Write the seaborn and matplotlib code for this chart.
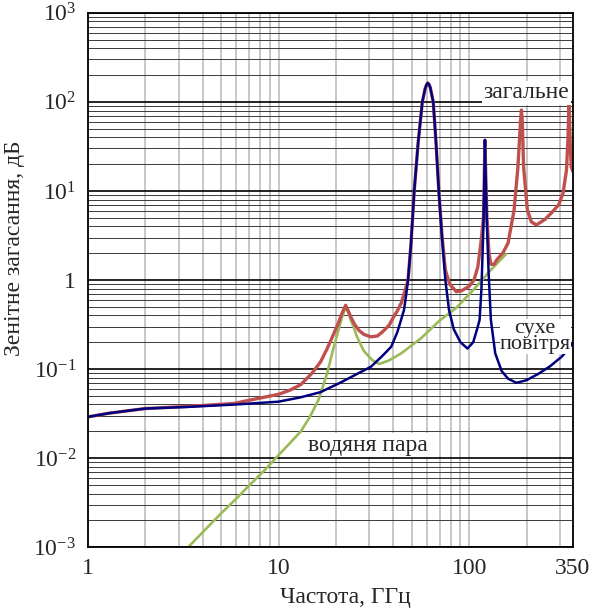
import matplotlib
matplotlib.use("Agg")
import matplotlib.pyplot as plt
import matplotlib.ticker as mticker
import seaborn as sns
import numpy as np

# Дані (частота, ГГц -> загасання, дБ)
f_dry = [1, 1.3, 2, 3.3, 6, 10, 13, 16.6, 21, 25, 30.5, 35, 39, 42, 44, 45.5,
         46.8, 47.8, 49.5, 51.5, 54, 56.8, 58.7, 59.7, 60.6, 61.5, 62.5, 64.8,
         67, 69.3, 72, 75, 78.4, 83, 90, 98, 105, 110, 113.4, 116, 118.8, 120,
         121, 122.3, 124, 126.5, 130, 137, 148, 160, 177, 200, 230, 265, 305,
         330, 350]
a_dry = [0.029, 0.032, 0.036, 0.0375, 0.040, 0.043, 0.048, 0.055, 0.07, 0.085,
         0.106, 0.14, 0.178, 0.26, 0.36, 0.46, 0.7, 1.0, 2.5, 10, 35, 100, 140,
         155, 163, 158, 145, 100, 35, 10, 3.0, 1.0, 0.46, 0.28, 0.2, 0.17, 0.2,
         0.28, 0.355, 0.8, 4, 12, 37.4, 12, 4, 1.2, 0.355, 0.15, 0.095, 0.078,
         0.07, 0.075, 0.088, 0.107, 0.137, 0.165, 0.2]

f_vap = [3.36, 4, 5, 6, 7, 8.5, 10, 11.5, 13.1, 14.6, 16.2, 18, 19.5, 20.7,
         21.5, 22.5, 23.3, 24, 25, 25.8, 28, 31, 33.7, 38, 44, 55.7, 70, 85.5,
         94, 110, 130, 156]
a_vap = [0.001, 0.00147, 0.0024, 0.0035, 0.0049, 0.0074, 0.0108, 0.0148,
         0.020, 0.029, 0.045, 0.09, 0.178, 0.28, 0.38, 0.5, 0.42, 0.35, 0.28,
         0.23, 0.16, 0.126, 0.114, 0.125, 0.15, 0.22, 0.35, 0.485, 0.6, 0.86,
         1.3, 1.95]

f_tot = [1, 1.3, 2, 3.3, 5.8, 8.7, 10, 11.5, 13.1, 15, 16.6, 18, 19.5, 20.5,
         21.5, 22.5, 23.2, 24, 25, 26.5, 28, 30.5, 33, 35, 38, 40, 42, 44, 46,
         47.8, 49.5, 51.5, 54, 56.8, 58.7, 59.7, 60.6, 61.5, 62.5, 64.8, 67,
         69.3, 72, 75, 79, 85.5, 90.5, 100, 106, 111, 115, 118.8, 120, 121,
         122.3, 124, 127, 130, 135, 140, 150, 160, 172, 180, 186, 188, 190,
         193, 202, 212, 225, 250, 270, 295, 311, 324, 330, 334, 338, 343, 350]
a_tot = [0.029, 0.032, 0.036, 0.038, 0.041, 0.049, 0.052, 0.058, 0.067, 0.09,
         0.12, 0.17, 0.25, 0.32, 0.42, 0.52, 0.45, 0.38, 0.32, 0.27, 0.245,
         0.23, 0.235, 0.26, 0.31, 0.38, 0.45, 0.55, 0.75, 1.0, 2.5, 10, 35,
         100, 140, 155, 163, 158, 145, 100, 35, 10, 3.2, 1.3, 0.9, 0.74, 0.75,
         0.85, 1.0, 1.4, 2.5, 5, 14, 37, 14, 5, 2.0, 1.5, 1.5, 1.7, 2.0, 2.6,
         6.1, 18, 60, 81, 60, 18.6, 6.1, 4.5, 4.15, 4.8, 5.66, 7.0, 9.5, 17.2,
         40, 100, 40, 18.7, 16.5]

x_ticks = [1, 10, 100, 350]
y_ticks = [1e-3, 1e-2, 1e-1, 1, 1e1, 1e2, 1e3]
y_labels = [r"$\mathregular{10^{-3}}$", r"$\mathregular{10^{-2}}$",
            r"$\mathregular{10^{-1}}$", "1", r"$\mathregular{10^{1}}$",
            r"$\mathregular{10^{2}}$", r"$\mathregular{10^{3}}$"]

sns.set_style("white")
plt.rcParams["font.family"] = ["Liberation Serif", "DejaVu Serif"]
plt.rcParams["mathtext.fontset"] = "custom"
plt.rcParams["mathtext.rm"] = "Liberation Serif"

fig, ax = plt.subplots(figsize=(5.98, 6.12), dpi=100)
fig.subplots_adjust(left=0.147, right=0.958, top=0.979, bottom=0.106)

ax.set_xscale("log")
ax.set_yscale("log")

sns.lineplot(x=f_vap, y=a_vap, ax=ax, color="#9bbb59", lw=1.9)
sns.lineplot(x=f_tot, y=a_tot, ax=ax, color="#c0504d", lw=2.4)
sns.lineplot(x=f_dry, y=a_dry, ax=ax, color="#000080", lw=1.8)

ax.set_xlim(1, 350)
ax.set_ylim(1e-3, 1e3)

# Сітка
ax.set_xticks(x_ticks)
ax.set_xticklabels([str(t) for t in x_ticks])
ax.xaxis.set_minor_locator(mticker.LogLocator(base=10, subs=np.arange(2, 10)))
ax.xaxis.set_minor_formatter(mticker.NullFormatter())
ax.set_yticks(y_ticks)
ax.set_yticklabels(y_labels)
ax.yaxis.set_minor_locator(mticker.LogLocator(base=10, subs=np.arange(2, 10), numticks=20))
ax.yaxis.set_minor_formatter(mticker.NullFormatter())

ax.grid(True, axis="x", which="both", color="#b8b8b8", lw=1.1)
ax.grid(True, axis="y", which="minor", color="#3a3a3a", lw=0.7)
ax.grid(True, axis="y", which="major", color="black", lw=1.2)
ax.set_axisbelow(True)

ax.tick_params(axis="x", which="both", length=0, labelsize=17, pad=8)
ax.tick_params(axis="y", which="major", length=5, width=1, direction="out",
               labelsize=17, color="black")
ax.tick_params(axis="y", which="minor", length=0)
for s in ax.spines.values():
    s.set_color("black")
    s.set_linewidth(1.3)

ax.set_xlabel("Частота, ГГц", fontsize=17)
ax.set_ylabel("Зенітне загасання, дБ", fontsize=17)
ax.xaxis.set_label_coords(0.53, -0.075)
ax.yaxis.set_label_coords(-0.13, 0.56)

box = dict(facecolor="white", edgecolor="none", pad=1)
ax.text(200, 126, "загальне", fontsize=17, ha="center", va="center", bbox=box)
ax.text(222, 0.232, "сухе\nповітря", fontsize=16, ha="center", va="center",
        linespacing=0.85, bbox=dict(facecolor="white", edgecolor="none", pad=0))
ax.text(29.4, 0.014, "водяня пара", fontsize=17, ha="center", va="center", bbox=box)

fig.savefig("out.png", dpi=100)
